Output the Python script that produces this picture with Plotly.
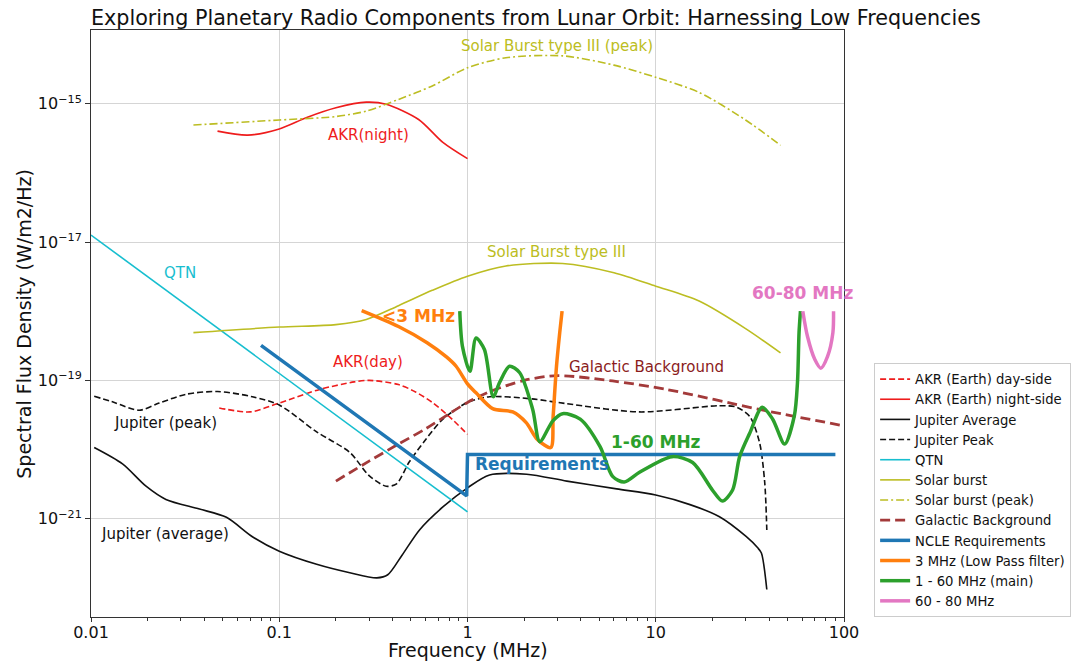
import plotly.graph_objects as go

# ---- data (frequency in MHz, spectral flux density in W/m2/Hz) ----
akr_day_freq = [0.048, 0.07, 0.1, 0.164, 0.25, 0.3, 0.43, 0.53, 0.65, 0.8, 1.0]
akr_day_flux = [4.0e-20, 3.5e-20, 4.7e-20, 7.4e-20, 9.5e-20, 1.0e-19, 8.7e-20, 6.8e-20, 4.8e-20, 3.0e-20, 1.66e-20]

akr_night_freq = [0.047, 0.068, 0.1, 0.14, 0.2, 0.29, 0.37, 0.55, 0.74, 1.0]
akr_night_flux = [4.0e-16, 3.5e-16, 4.3e-16, 6.3e-16, 8.7e-16, 1.05e-15, 9.8e-16, 5.9e-16, 2.75e-16, 1.6e-16]

jup_avg_freq = [0.0104, 0.0147, 0.0196, 0.025, 0.0377, 0.0524, 0.072, 0.1, 0.158, 0.237, 0.33,
                0.377, 0.45, 0.556, 0.74, 1.0, 1.31, 2.06, 3.37, 6.2, 10, 15.2, 21.8, 30.3,
                34.8, 36.4, 38.9]
jup_avg_flux = [1.07e-20, 6.2e-21, 2.95e-21, 1.9e-21, 1.38e-21, 1.05e-21, 5.5e-22, 3.4e-22, 2.2e-22,
                1.66e-22, 1.4e-22, 1.55e-22, 3.0e-22, 6.9e-22, 1.48e-21, 2.8e-21, 4.3e-21, 4.4e-21,
                3.5e-21, 2.7e-21, 2.2e-21, 1.6e-21, 1.07e-21, 5.5e-22, 3.8e-22, 3.2e-22, 9.5e-23]

jup_peak_freq = [0.0104, 0.013, 0.018, 0.023, 0.032, 0.047, 0.072, 0.1, 0.158, 0.237, 0.3, 0.37,
                 0.42, 0.49, 0.6, 0.74, 1.0, 1.31, 2.2, 3.37, 8.2, 21.8, 26.9, 31.6, 35.6, 37.9, 38.9]
jup_peak_flux = [5.9e-20, 4.9e-20, 3.7e-20, 4.7e-20, 6.3e-20, 6.9e-20, 5.8e-20, 4.4e-20, 1.8e-20,
                 9.1e-21, 4.2e-21, 2.95e-21, 3.2e-21, 6.6e-21, 1.4e-20, 2.75e-20, 4.8e-20, 5.8e-20,
                 5.4e-20, 4.6e-20, 3.5e-20, 4.3e-20, 4.1e-20, 3.0e-20, 1.26e-20, 3.4e-21, 6.9e-22]

qtn_freq = [0.01, 1.0]
qtn_flux = [1.26e-17, 1.26e-21]

solar_freq = [0.035, 0.1, 0.2, 0.29, 0.43, 0.65, 1.0, 1.6, 3.2, 6.0, 10, 17, 30, 46]
solar_flux = [4.9e-19, 5.9e-19, 6.4e-19, 7.6e-19, 1.2e-18, 2.0e-18, 3.2e-18, 4.5e-18, 4.9e-18,
              3.6e-18, 2.3e-18, 1.4e-18, 5.6e-19, 2.5e-19]
solar_peak_flux = [4.9e-16, 5.8e-16, 6.5e-16, 7.8e-16, 1.15e-15, 1.8e-15, 3.3e-15, 4.6e-15, 4.9e-15,
                   3.6e-15, 2.4e-15, 1.45e-15, 5.8e-16, 2.5e-16]

galactic_freq = [0.2, 0.3, 0.43, 0.6, 0.8, 1.0, 1.3, 2.0, 3.0, 5.9, 11.4, 35.6, 100]
galactic_flux = [3.5e-21, 6.8e-21, 1.2e-20, 2.0e-20, 3.3e-20, 4.8e-20, 6.8e-20, 1.0e-19, 1.17e-19,
                 9.8e-20, 7.4e-20, 3.8e-20, 2.2e-20]

ncle_freq = [0.08, 0.99, 1.0, 1.03, 90]
ncle_flux = [3.2e-19, 2.14e-21, 8.5e-21, 8.5e-21, 8.5e-21]

lpf_freq = [0.274, 0.43, 0.61, 0.77, 0.87, 1.0, 1.11, 1.36, 1.74, 2.05, 2.35, 2.77, 2.85, 2.97, 3.09, 3.18]
lpf_flux = [1.02e-18, 6.0e-19, 3.5e-19, 2.2e-19, 1.6e-19, 8.9e-20, 6.6e-20, 3.9e-20, 3.5e-20,
            2.45e-20, 1.4e-20, 1.07e-20, 3.0e-20, 1.6e-19, 4.9e-19, 1.0e-18]

main_freq = [0.91, 0.94, 1.03, 1.11, 1.23, 1.37, 1.48, 1.67, 1.89, 2.22, 2.42, 2.84, 3.2, 3.97, 5.06,
             5.9, 6.8, 8.2, 12.2, 15.7, 20.0, 22.6, 25.6, 27.9, 31.6, 36.8, 41.8, 48.4, 54.5, 56.6,
             57.7, 58.7]
main_flux = [1.0e-18, 3.1e-19, 1.35e-19, 4.1e-19, 2.8e-19, 5.8e-20, 9.3e-20, 1.6e-19, 1.3e-19, 3.8e-20,
             1.3e-20, 2.6e-20, 3.3e-20, 2.75e-20, 1.1e-20, 4.1e-21, 3.4e-21, 4.7e-21, 7.9e-21, 6.5e-21,
             2.6e-21, 1.8e-21, 2.6e-21, 7.9e-21, 1.74e-20, 4.1e-20, 2.75e-20, 1.2e-20, 3.1e-20, 9.3e-20,
             4.9e-19, 1.0e-18]

vhf_freq = [60.4, 64, 70, 75.3, 81.7, 87.3, 88]
vhf_flux = [1.0e-18, 4.3e-19, 2.0e-19, 1.5e-19, 2.2e-19, 4.9e-19, 1.0e-18]

x_tick_vals = [0.01, 0.1, 1, 10, 100]
x_tick_text = ["0.01", "0.1", "1", "10", "100"]
y_tick_vals = [1e-21, 1e-19, 1e-17, 1e-15]
y_tick_text = ["10<sup>\u221221</sup>", "10<sup>\u221219</sup>", "10<sup>\u221217</sup>", "10<sup>\u221215</sup>"]

# ---- styles ----
RED = "#ee1c1c"
BLACK = "#111111"
CYAN = "#17becf"
OLIVE = "#bcbd22"
BROWN = "#a33a3a"
BLUE = "#1f77b4"
ORANGE = "#ff7f0e"
GREEN = "#2ca02c"
PINK = "#e377c2"

fig = go.Figure()


def add(x, y, name, color, width, dash="solid", shape="spline"):
    fig.add_trace(go.Scatter(
        x=x, y=y, name=name, mode="lines",
        line=dict(color=color, width=width, dash=dash, shape=shape, smoothing=0.8),
    ))


THIN_DASH = "6px,3px"
add(akr_day_freq, akr_day_flux, "AKR (Earth) day-side", RED, 1.6, THIN_DASH)
add(akr_night_freq, akr_night_flux, "AKR (Earth) night-side", RED, 1.6)
add(jup_avg_freq, jup_avg_flux, "Jupiter Average", BLACK, 1.6)
add(jup_peak_freq, jup_peak_flux, "Jupiter Peak", BLACK, 1.6, THIN_DASH)
add(qtn_freq, qtn_flux, "QTN", CYAN, 1.6, shape="linear")
add(solar_freq, solar_flux, "Solar burst", OLIVE, 1.6)
add(solar_freq, solar_peak_flux, "Solar burst (peak)", OLIVE, 1.6, "8px,3px,2px,3px")
add(galactic_freq, galactic_flux, "Galactic Background", BROWN, 2.8, "10px,5px")
add(ncle_freq, ncle_flux, "NCLE Requirements", BLUE, 3.5, shape="linear")
add(lpf_freq, lpf_flux, "3 MHz (Low Pass filter)", ORANGE, 3.5)
add(main_freq, main_flux, "1 - 60 MHz (main)", GREEN, 3.5)
add(vhf_freq, vhf_flux, "60 - 80 MHz", PINK, 3.5)

FONT = "DejaVu Sans"

# in-plot labels; positions are log10 coordinates
labels = [
    ("Solar Burst type III (peak)", 0.474, -14.16, OLIVE, False),
    ("AKR(night)", -0.526, -15.46, RED, False),
    ("QTN", -1.525, -17.45, CYAN, False),
    ("Solar Burst type III", 0.474, -17.15, OLIVE, False),
    ("<3 MHz", -0.26, -18.07, ORANGE, True),
    ("AKR(day)", -0.526, -18.74, RED, False),
    ("Galactic Background", 0.952, -18.80, "#8b1c1c", False),
    ("Jupiter (peak)", -1.605, -19.62, BLACK, False),
    ("1-60 MHz", 1.0, -19.89, GREEN, True),
    ("Requirements", 0.394, -20.21, BLUE, True),
    ("60-80 MHz", 1.782, -17.74, PINK, True),
    ("Jupiter (average)", -1.605, -21.22, BLACK, False),
]
for text, lx, ly, color, bold in labels:
    fig.add_annotation(
        x=lx, y=ly, xref="x", yref="y", showarrow=False,
        text=f"<b>{text}</b>" if bold else text,
        font=dict(family=FONT, size=17 if bold else 15, color=color),
        xanchor="center", yanchor="middle",
    )

# axis titles
fig.add_annotation(
    text="Frequency (MHz)", xref="paper", yref="paper", x=0.5, y=-0.0767,
    showarrow=False, font=dict(family=FONT, size=19, color="#111"),
    xanchor="center", yanchor="bottom", borderpad=0,
)
fig.add_annotation(
    text="Spectral Flux Density (W/m2/Hz)", xref="paper", yref="paper", x=-0.09, y=0.5,
    showarrow=False, textangle=-90, font=dict(family=FONT, size=19, color="#111"),
    xanchor="center", yanchor="middle",
)

minor_x = [m * 10 ** e for e in range(-2, 2) for m in range(2, 10)]

fig.update_layout(
    width=1085, height=662,
    margin=dict(l=91, r=241, t=30, b=45, autoexpand=False),
    paper_bgcolor="white", plot_bgcolor="white",
    font=dict(family=FONT, color="#111"),
    title=dict(
        text="Exploring Planetary Radio Components from Lunar Orbit: Harnessing Low Frequencies",
        x=91 / 1085, xanchor="left", y=1 - 18 / 662, yanchor="middle",
        font=dict(family=FONT, size=20.7, color="#111"),
    ),
    showlegend=True,
    legend=dict(
        x=1.04, y=0, xanchor="left", yanchor="bottom",
        bgcolor="white", bordercolor="#cccccc", borderwidth=1,
        font=dict(family=FONT, size=13.2, color="#111"),
        itemwidth=30, tracegroupgap=0,
    ),
    xaxis=dict(
        type="log", range=[-2, 2],
        tickvals=x_tick_vals, ticktext=x_tick_text,
        tickfont=dict(family=FONT, size=16, color="#111"),
        showgrid=True, gridcolor="#d5d5d5", gridwidth=1,
        showline=True, linecolor="#333", linewidth=1, mirror=True,
        ticks="outside", ticklen=4, tickcolor="#333",
        ticklabelstandoff=-3,
        minor=dict(tickvals=minor_x, ticks="outside", ticklen=3, tickcolor="#333", showgrid=False),
        zeroline=False,
    ),
    yaxis=dict(
        type="log", range=[-22.42, -13.936],
        tickvals=y_tick_vals, ticktext=y_tick_text,
        tickfont=dict(family=FONT, size=16, color="#111"),
        showgrid=True, gridcolor="#d5d5d5", gridwidth=1,
        showline=True, linecolor="#333", linewidth=1, mirror=True,
        ticks="outside", ticklen=5, tickcolor="#333",
        zeroline=False,
    ),
)

fig.write_html("out.html")
